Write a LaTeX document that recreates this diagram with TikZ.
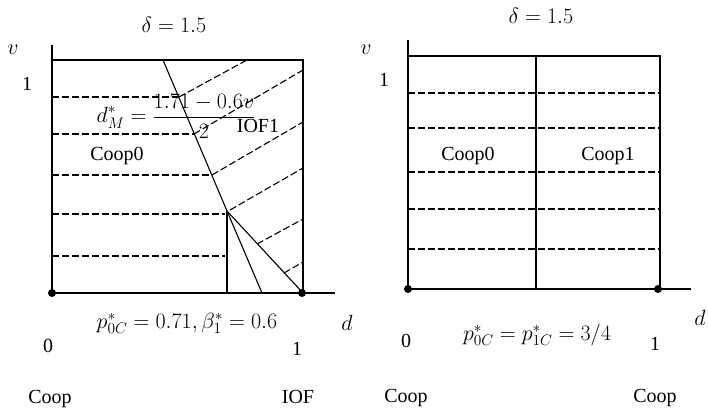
\RequirePackage{fix-cm}
\documentclass[tikz,border=0pt]{standalone}
\usepackage{fontspec}
\setmainfont{Liberation Serif}
\begin{document}
\begin{tikzpicture}[x=1pt,y=-1pt,
  font=\fontsize{20}{24}\selectfont,
  axisline/.style={line width=1.3pt},
  bound/.style={line width=1.1pt},
  hatch/.style={line width=1.1pt, dash pattern=on 7pt off 3pt},
  blackdot/.style={circle, fill=black, inner sep=0pt, minimum size=8pt},
  lbl/.style={anchor=base, inner sep=0pt},
  mathlbl/.style={anchor=base, inner sep=0pt, font=\fontsize{22}{26}\selectfont}]
\useasboundingbox (0,0) rectangle (708,409);
% ---------------- left panel ----------------
\coordinate (La) at (52,45);
\coordinate (Lo) at (52,293);
\coordinate (Lx) at (335,293);
\coordinate (Ltr) at (303,60);
\coordinate (Ltl) at (52,60);
\coordinate (Lbr) at (303,293);
\coordinate (Ls) at (163,60);
\coordinate (Lk) at (227,211);
\coordinate (Lv) at (227,293);
\coordinate (Lm) at (262,293);
\draw[axisline] (La) -- (Lo) -- (Lx);
\draw[bound] (Ltl) -- (Ltr) -- (Lbr);
\draw[bound] (Ls) -- (Lk);
\draw[bound] (Lk) -- (Lv);
\draw[bound] (Lk) -- (Lm);
\draw[bound] (Lk) -- (Lbr);
% horizontal dashed
\draw[hatch] (52,97) -- (179,97);
\draw[hatch] (52,134) -- (194,134);
\draw[hatch] (52,175) -- (212,175);
\draw[hatch] (52,214) -- (225,214);
\draw[hatch] (52,256) -- (225,256);
% diagonal dashed
\draw[hatch] (179,97) -- (247,60);
\draw[hatch] (194,134) -- (303,70);
\draw[hatch] (212,175) -- (303,122);
\draw[hatch] (230,210) -- (303,168);
\draw[hatch] (257,244) -- (303,219);
\draw[hatch] (284,273) -- (303,262);
\node[blackdot] (Ld0) at (Lo) {};
\node[blackdot] (Ld1) at (302,293) {};
% labels
\node[mathlbl] (Ldelta) at (174,33) {$\delta = 1.5$};
\node[mathlbl] (Lvv) at (13,55) {$v$};
\node[lbl] (Lone) at (27,91) {1};
\node[inner sep=0pt, font=\fontsize{22}{26}\selectfont] (Ldm) at (176,116) {$\displaystyle d_M^* = \frac{1.71-0.6v}{2}$};
\node[lbl] (Liof1) at (258,132) {IOF1};
\node[lbl] (Lcoop0) at (117,160) {Coop0};
\node[mathlbl] (Ld) at (347,330) {$d$};
\node[lbl] (Lzero) at (48,352) {0};
\node[mathlbl] (Lp) at (187,328) {$p_{0C}^* = 0.71,\beta_1^* = 0.6$};
\node[lbl] (Lonex) at (297,355) {1};
\node[lbl] (Lcoop) at (50,403) {Coop};
\node[lbl] (Liof) at (298,403) {IOF};
% ---------------- right panel ----------------
\coordinate (Ra) at (408,40);
\coordinate (Ro) at (408,289);
\coordinate (Rx) at (691,289);
\coordinate (Rtl) at (408,56);
\coordinate (Rtr) at (660,56);
\coordinate (Rbr) at (660,289);
\coordinate (Rmt) at (536,56);
\coordinate (Rmb) at (536,289);
\draw[axisline] (Ra) -- (Ro) -- (Rx);
\draw[bound] (Rtl) -- (Rtr) -- (Rbr);
\draw[bound] (Rmt) -- (Rmb);
\foreach \yy in {93,128,172,209,249} {\draw[hatch] (408,\yy) -- (660,\yy);}
\node[blackdot] (Rd0) at (Ro) {};
\node[blackdot] (Rd1) at (658,289) {};
\node[mathlbl] (Rdelta) at (541,24) {$\delta = 1.5$};
\node[mathlbl] (Rv) at (366,55) {$v$};
\node[lbl] (Rone) at (384,87) {1};
\node[lbl] (Rcoop0) at (468,160) {Coop0};
\node[lbl] (Rcoop1) at (608,160) {Coop1};
\node[mathlbl] (Rd) at (700,325) {$d$};
\node[lbl] (Rzero) at (406,347) {0};
\node[mathlbl] (Rp) at (537,340) {$p_{0C}^* = p_{1C}^* = 3/4$};
\node[lbl] (Ronex) at (655,350) {1};
\node[lbl] (Rcoop) at (406,402) {Coop};
\node[lbl] (Rcoopb) at (655,402) {Coop};
\end{tikzpicture}
\end{document}
